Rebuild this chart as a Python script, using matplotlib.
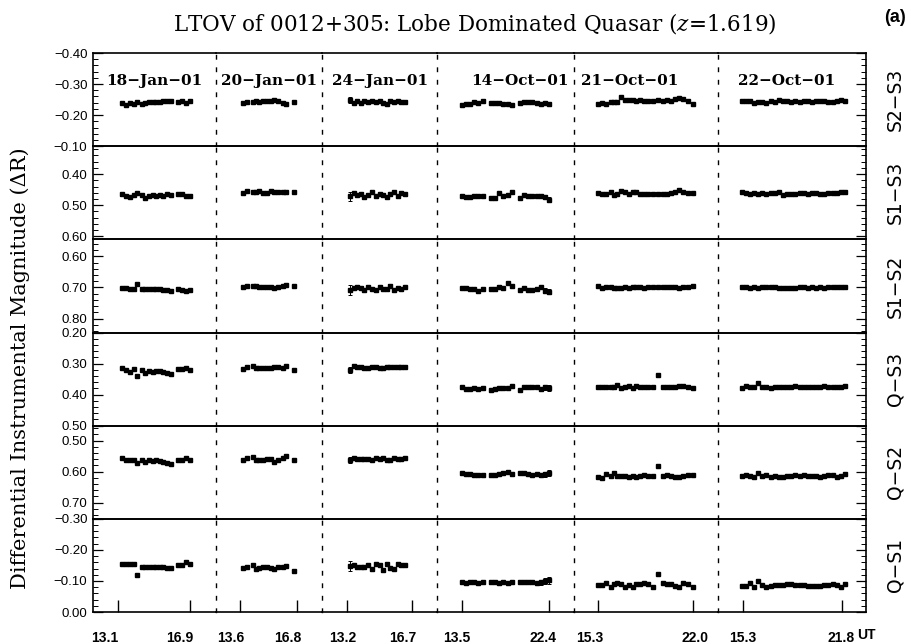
import matplotlib
matplotlib.use("Agg")
import matplotlib.pyplot as plt
from matplotlib.ticker import FixedLocator, MultipleLocator, NullLocator
from matplotlib.transforms import ScaledTranslation

plt.rcParams["mathtext.fontset"] = "dejavuserif"

# ---------------------------------------------------------------- data
NIGHTS = ["18\u2212Jan\u221201", "20\u2212Jan\u221201", "24\u2212Jan\u221201",
          "14\u2212Oct\u221201", "21\u2212Oct\u221201", "22\u2212Oct\u221201"]

# UT (hours) of each frame, one list per night
UT_18JAN = [13.30, 13.52, 13.73, 13.94, 14.12, 14.35, 14.54, 14.74, 14.93, 15.11,
            15.32, 15.49, 15.70, 15.90, 16.28, 16.48, 16.69, 16.90]
UT_20JAN = [13.79, 13.98, 14.31, 14.50, 14.68, 14.91, 15.10, 15.32, 15.51, 15.75,
            16.00, 16.18, 16.63]
UT_24JAN = [13.36, 13.55, 13.74, 13.93, 14.14, 14.34, 14.53, 14.74, 14.95, 15.13,
            15.33, 15.52, 15.74, 15.94, 16.12, 16.33]
UT_14OCT = [13.47, 13.91, 14.32, 14.73, 15.17, 15.62, 16.43, 16.87, 17.31, 17.72,
            18.17, 18.61, 19.43, 19.84, 20.28, 20.69, 21.14, 21.55, 21.99, 22.43]
UT_21OCT = [15.32, 15.56, 15.86, 16.20, 16.43, 16.66, 16.90, 17.20, 17.49, 17.75,
            17.98, 18.26, 18.54, 18.85, 19.20, 19.55, 19.91, 20.19, 20.45, 20.73,
            21.03, 21.32, 21.67, 22.02]
UT_22OCT = [15.21, 15.48, 15.76, 16.03, 16.30, 16.57, 16.84, 17.11, 17.38, 17.66,
            17.93, 18.20, 18.47, 18.74, 19.01, 19.28, 19.56, 19.83, 20.10, 20.37,
            20.64, 20.91, 21.18, 21.46, 21.73, 22.00]
UT = [UT_18JAN, UT_20JAN, UT_24JAN, UT_14OCT, UT_21OCT, UT_22OCT]

# first / last UT of each night, used as bottom tick labels
UT_TICKS = [(13.1, 16.9), (13.6, 16.8), (13.2, 16.7),
            (13.5, 22.4), (15.3, 22.0), (15.3, 21.8)]

S2_S3 = [
    [-0.238, -0.234, -0.240, -0.236, -0.241, -0.237, -0.240, -0.241, -0.242, -0.242,
     -0.243, -0.244, -0.246, -0.246, -0.242, -0.246, -0.240, -0.245],
    [-0.240, -0.243, -0.243, -0.247, -0.243, -0.245, -0.246, -0.246, -0.249, -0.245,
     -0.240, -0.236, -0.242],
    [-0.248, -0.240, -0.245, -0.240, -0.246, -0.241, -0.246, -0.241, -0.246, -0.240,
     -0.236, -0.247, -0.243, -0.245, -0.243, -0.242],
    [-0.234, -0.237, -0.236, -0.242, -0.240, -0.246, -0.240, -0.238, -0.239, -0.236,
     -0.236, -0.234, -0.238, -0.242, -0.243, -0.241, -0.240, -0.236, -0.240, -0.235],
    [-0.236, -0.240, -0.237, -0.242, -0.241, -0.243, -0.257, -0.249, -0.250, -0.249,
     -0.244, -0.249, -0.247, -0.247, -0.246, -0.249, -0.247, -0.248, -0.244, -0.252,
     -0.254, -0.253, -0.246, -0.236],
    [-0.245, -0.245, -0.244, -0.240, -0.241, -0.243, -0.240, -0.245, -0.243, -0.248,
     -0.244, -0.244, -0.243, -0.244, -0.242, -0.244, -0.246, -0.243, -0.244, -0.244,
     -0.244, -0.243, -0.242, -0.246, -0.248, -0.245],
]
S1_S3 = [
    [0.465, 0.472, 0.474, 0.467, 0.461, 0.468, 0.476, 0.470, 0.468, 0.470,
     0.466, 0.469, 0.465, 0.468, 0.464, 0.465, 0.470, 0.469],
    [0.461, 0.454, 0.458, 0.457, 0.455, 0.461, 0.460, 0.455, 0.458, 0.458,
     0.458, 0.458, 0.458],
    [0.472, 0.462, 0.466, 0.464, 0.473, 0.467, 0.459, 0.470, 0.465, 0.466,
     0.474, 0.463, 0.459, 0.470, 0.462, 0.465],
    [0.469, 0.475, 0.474, 0.471, 0.469, 0.472, 0.476, 0.476, 0.462, 0.472,
     0.468, 0.459, 0.476, 0.467, 0.470, 0.470, 0.470, 0.470, 0.473, 0.482],
    [0.460, 0.464, 0.464, 0.459, 0.466, 0.465, 0.455, 0.456, 0.463, 0.459,
     0.456, 0.464, 0.465, 0.464, 0.463, 0.463, 0.464, 0.465, 0.462, 0.458,
     0.450, 0.458, 0.461, 0.462],
    [0.459, 0.461, 0.465, 0.462, 0.465, 0.461, 0.464, 0.461, 0.460, 0.459,
     0.466, 0.464, 0.463, 0.463, 0.462, 0.460, 0.463, 0.460, 0.462, 0.464,
     0.464, 0.462, 0.461, 0.460, 0.458, 0.459],
]
S1_S2 = [
    [0.701, 0.701, 0.706, 0.706, 0.690, 0.704, 0.706, 0.705, 0.706, 0.704,
     0.705, 0.707, 0.708, 0.710, 0.704, 0.708, 0.710, 0.709],
    [0.697, 0.694, 0.695, 0.696, 0.697, 0.698, 0.700, 0.697, 0.703, 0.697,
     0.695, 0.692, 0.695],
    [0.708, 0.703, 0.697, 0.702, 0.707, 0.699, 0.705, 0.708, 0.698, 0.704,
     0.704, 0.695, 0.709, 0.702, 0.704, 0.700],
    [0.701, 0.701, 0.705, 0.705, 0.710, 0.705, 0.704, 0.704, 0.697, 0.702,
     0.686, 0.695, 0.707, 0.702, 0.708, 0.707, 0.704, 0.697, 0.710, 0.713],
    [0.696, 0.702, 0.699, 0.698, 0.702, 0.702, 0.701, 0.698, 0.702, 0.700,
     0.700, 0.700, 0.702, 0.700, 0.699, 0.700, 0.700, 0.700, 0.699, 0.697,
     0.702, 0.700, 0.699, 0.694],
    [0.698, 0.700, 0.702, 0.699, 0.703, 0.700, 0.700, 0.700, 0.698, 0.703,
     0.703, 0.702, 0.702, 0.701, 0.700, 0.700, 0.702, 0.700, 0.701, 0.698,
     0.701, 0.699, 0.700, 0.700, 0.700, 0.699],
]
Q_S3 = [
    [0.314, 0.322, 0.327, 0.318, 0.341, 0.320, 0.330, 0.324, 0.327, 0.325,
     0.325, 0.327, 0.330, 0.333, 0.316, 0.316, 0.314, 0.320],
    [0.318, 0.310, 0.308, 0.313, 0.313, 0.313, 0.313, 0.313, 0.310, 0.312,
     0.313, 0.309, 0.322],
    [0.322, 0.307, 0.312, 0.310, 0.314, 0.314, 0.312, 0.311, 0.313, 0.313,
     0.312, 0.312, 0.311, 0.310, 0.310, 0.310],
    [0.377, 0.382, 0.382, 0.378, 0.382, 0.378, 0.385, 0.381, 0.379, 0.379,
     0.378, 0.372, 0.384, 0.376, 0.374, 0.376, 0.374, 0.383, 0.377, 0.378],
    [0.377, 0.375, 0.375, 0.377, 0.376, 0.368, 0.378, 0.376, 0.372, 0.378,
     0.371, 0.377, 0.374, 0.377, 0.377, 0.337, 0.376, 0.375, 0.377, 0.376,
     0.371, 0.372, 0.376, 0.378],
    [0.378, 0.373, 0.374, 0.377, 0.362, 0.376, 0.375, 0.378, 0.377, 0.376,
     0.376, 0.375, 0.376, 0.373, 0.377, 0.374, 0.375, 0.376, 0.377, 0.376,
     0.372, 0.374, 0.377, 0.375, 0.374, 0.372],
]
Q_S2 = [
    [0.555, 0.562, 0.562, 0.563, 0.571, 0.562, 0.568, 0.564, 0.566, 0.564,
     0.566, 0.570, 0.572, 0.574, 0.561, 0.563, 0.556, 0.562],
    [0.562, 0.556, 0.553, 0.561, 0.561, 0.561, 0.560, 0.559, 0.568, 0.562,
     0.556, 0.550, 0.564],
    [0.562, 0.556, 0.558, 0.558, 0.560, 0.560, 0.562, 0.556, 0.560, 0.556,
     0.561, 0.563, 0.557, 0.559, 0.558, 0.556],
    [0.606, 0.608, 0.608, 0.610, 0.610, 0.612, 0.610, 0.610, 0.608, 0.604,
     0.600, 0.609, 0.606, 0.606, 0.607, 0.610, 0.609, 0.610, 0.609, 0.604],
    [0.617, 0.622, 0.609, 0.615, 0.606, 0.613, 0.613, 0.613, 0.616, 0.613,
     0.616, 0.613, 0.612, 0.614, 0.615, 0.583, 0.613, 0.611, 0.613, 0.616,
     0.617, 0.613, 0.611, 0.611],
    [0.615, 0.612, 0.613, 0.616, 0.604, 0.614, 0.611, 0.617, 0.614, 0.618,
     0.616, 0.614, 0.614, 0.612, 0.614, 0.611, 0.614, 0.613, 0.614, 0.616,
     0.614, 0.611, 0.612, 0.617, 0.613, 0.609],
]
Q_S1 = [
    [-0.155, -0.153, -0.153, -0.153, -0.119, -0.146, -0.146, -0.146, -0.144, -0.145,
     -0.146, -0.144, -0.142, -0.142, -0.151, -0.151, -0.160, -0.153],
    [-0.143, -0.144, -0.150, -0.140, -0.143, -0.146, -0.145, -0.142, -0.140, -0.144,
     -0.146, -0.148, -0.133],
    [-0.148, -0.150, -0.146, -0.145, -0.145, -0.150, -0.137, -0.153, -0.152, -0.134,
     -0.155, -0.142, -0.140, -0.154, -0.152, -0.150],
    [-0.095, -0.094, -0.096, -0.095, -0.092, -0.095, -0.096, -0.095, -0.092, -0.095,
     -0.092, -0.095, -0.097, -0.096, -0.098, -0.096, -0.093, -0.096, -0.099, -0.102],
    [-0.088, -0.088, -0.092, -0.082, -0.091, -0.092, -0.091, -0.081, -0.087, -0.082,
     -0.091, -0.091, -0.092, -0.090, -0.082, -0.123, -0.092, -0.091, -0.090, -0.083,
     -0.081, -0.092, -0.091, -0.082],
    [-0.084, -0.085, -0.093, -0.080, -0.100, -0.086, -0.082, -0.083, -0.086, -0.087,
     -0.087, -0.089, -0.089, -0.087, -0.087, -0.086, -0.085, -0.084, -0.085, -0.085,
     -0.086, -0.087, -0.090, -0.088, -0.082, -0.090],
]
SERIES = [S2_S3, S1_S3, S1_S2, Q_S3, Q_S2, Q_S1]
PAIR_NAMES = ["S2\u2212S3", "S1\u2212S3", "S1\u2212S2", "Q\u2212S3", "Q\u2212S2", "Q\u2212S1"]

# typical photometric error per pair (rows) and night (columns)
ERR = [
    [0.003, 0.002, 0.004, 0.003, 0.003, 0.003],
    [0.004, 0.002, 0.006, 0.004, 0.004, 0.003],
    [0.004, 0.002, 0.006, 0.004, 0.004, 0.003],
    [0.003, 0.002, 0.004, 0.004, 0.003, 0.003],
    [0.003, 0.002, 0.004, 0.004, 0.003, 0.003],
    [0.004, 0.002, 0.006, 0.005, 0.003, 0.003],
]
# frames with inflated errors: night -> {frame index: factor}
ERR_BOOST = {2: {0: 2.5}, 3: {17: 1.6, 18: 1.8, 19: 2.2}}

# y range of each panel (top, bottom) and labelled ticks
Y_RANGE = [(-0.40, -0.10), (0.31, 0.61), (0.545, 0.845),
           (0.20, 0.50), (0.452, 0.752), (-0.30, 0.00)]
Y_TICKS = [[-0.40, -0.30, -0.20, -0.10], [0.40, 0.50, 0.60], [0.60, 0.70, 0.80],
           [0.20, 0.30, 0.40, 0.50], [0.50, 0.60, 0.70], [-0.30, -0.20, -0.10, 0.00]]

# ---------------------------------------------------------------- layout (pixels)
W, H = 912, 644
COL_EDGES = [93, 216, 322, 437, 574, 718, 866]
TICK_PX = [(118, 190), (240, 297), (347, 412), (462, 549), (598, 693), (743, 842)]
# horizontal nudge (px) of each bottom tick label relative to its tick
LABEL_SHIFT = [(-13, -10), (-9, -9), (-4, -9), (-5, -6), (-8, 2), (0, -1)]
TOP, BOTTOM = 53, 612
DATE_X = [154, 269, 380, 520, 630, 787]

fig = plt.figure(figsize=(W / 100, H / 100), dpi=100)
widths = [COL_EDGES[i + 1] - COL_EDGES[i] for i in range(6)]
gs = fig.add_gridspec(6, 6, left=COL_EDGES[0] / W, right=COL_EDGES[-1] / W,
                      top=1 - TOP / H, bottom=1 - BOTTOM / H,
                      width_ratios=widths, hspace=0, wspace=0)

tick_font = dict(family="Liberation Sans", size=9.5)
spine_lw = 1.2

for r in range(6):
    for c in range(6):
        ax = fig.add_subplot(gs[r, c])
        ax.patch.set_visible(False)
        # x limits so that the first/last UT ticks sit at their pixel spots
        u1, u2 = UT_TICKS[c]
        p1, p2 = TICK_PX[c]
        pph = (p2 - p1) / (u2 - u1)
        ax.set_xlim(u1 - (p1 - COL_EDGES[c]) / pph, u2 + (COL_EDGES[c + 1] - p2) / pph)
        top, bot = Y_RANGE[r]
        ax.set_ylim(bot, top)

        vals = SERIES[r][c]
        errs = [ERR[r][c] * ERR_BOOST.get(c, {}).get(i, 1.0) for i in range(len(vals))]
        ax.errorbar(UT[c], vals, yerr=errs, fmt="s", ms=2.3, mfc="black", mec="black",
                    ecolor="black", elinewidth=0.7, capsize=1.2, capthick=0.7,
                    color="black", zorder=3)

        for side in ("top", "bottom", "left", "right"):
            ax.spines[side].set_linewidth(spine_lw)
        if c > 0:
            ax.spines["left"].set_visible(False)
        if c < 5:
            ax.spines["right"].set_linestyle((0, (2.5, 6.5)))
            ax.spines["right"].set_linewidth(1.0)

        # y ticks: labelled on the left frame, mirrored on the right frame
        ax.yaxis.set_major_locator(FixedLocator(Y_TICKS[r]))
        ax.yaxis.set_minor_locator(MultipleLocator(0.02))
        if c == 0:
            ax.tick_params(axis="y", which="major", direction="in", length=7, width=0.9,
                           left=True, right=False, labelleft=True, pad=4)
            ax.tick_params(axis="y", which="minor", direction="in", length=3.5, width=0.7,
                           left=True, right=False)
            ax.set_yticks(Y_TICKS[r], labels=[f"{v:.2f}".replace("-", "\u2212") for v in Y_TICKS[r]],
                          **tick_font)
        elif c == 5:
            ax.tick_params(axis="y", which="major", direction="in", length=7, width=0.9,
                           left=False, right=True, labelleft=False)
            ax.tick_params(axis="y", which="minor", direction="in", length=3.5, width=0.7,
                           left=False, right=True)
        else:
            ax.tick_params(axis="y", which="both", left=False, right=False, labelleft=False)

        # x ticks only along the bottom frame
        if r == 5:
            ax.set_xticks(list(UT_TICKS[c]), labels=[f"{u:.1f}" for u in UT_TICKS[c]],
                          family="Liberation Sans", size=10, fontweight="bold")
            ax.tick_params(axis="x", direction="in", length=9, width=1.0, pad=14,
                           top=False, bottom=True)
            for lbl, dx in zip(ax.get_xticklabels(), LABEL_SHIFT[c]):
                lbl.set_transform(lbl.get_transform()
                                  + ScaledTranslation(dx / 100, 0, fig.dpi_scale_trans))
        else:
            ax.xaxis.set_major_locator(NullLocator())
        ax.xaxis.set_minor_locator(NullLocator())

        if r == 0:
            fig.text(DATE_X[c] / W, 1 - 81 / H, NIGHTS[c], ha="center", va="center",
                     family="DejaVu Serif", fontsize=11, fontweight="bold")
        if c == 5:
            yc = TOP + (r + 0.5) * (BOTTOM - TOP) / 6
            fig.text(895 / W, 1 - yc / H, PAIR_NAMES[r], rotation=90, ha="center",
                     va="center", family="DejaVu Sans", fontsize=13.5)

fig.text(475 / W, 1 - 24 / H,
         "LTOV of 0012+305: Lobe Dominated Quasar ($z$=1.619)",
         ha="center", va="center", family="DejaVu Serif", fontsize=15.5)
fig.text(895 / W, 1 - 18 / H, "(a)", ha="center", va="center",
         family="Liberation Sans", fontsize=13, fontweight="bold")
fig.text(20 / W, 1 - 368 / H, "Differential Instrumental Magnitude (\u0394R)",
         rotation=90, ha="center", va="center", family="DejaVu Serif", fontsize=15)
fig.text(866 / W, 1 - 635 / H, "UT", ha="center", va="center",
         family="Liberation Sans", size=10, fontweight="bold")

fig.savefig("out.png", dpi=100)
